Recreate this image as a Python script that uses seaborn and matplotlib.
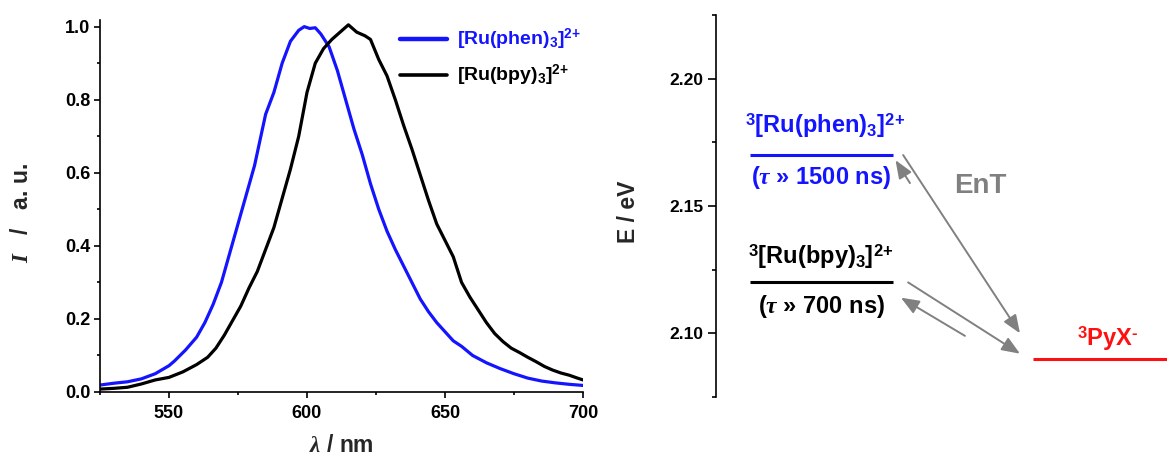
import numpy as np
import pandas as pd
import seaborn as sns
import matplotlib
matplotlib.use("Agg")
import matplotlib.pyplot as plt
from matplotlib.lines import Line2D
from matplotlib.ticker import MultipleLocator, FormatStrFormatter

# ---------------- data ----------------
wl_phen = [525, 530, 535, 540, 545, 550, 552, 556, 560, 563, 566, 569, 572, 575, 578,
           581, 583, 585, 588, 591, 594, 597, 599, 601, 603, 605, 608, 611, 614, 617,
           620, 623, 626, 629, 632, 635, 638, 641, 644, 647, 650, 653, 656, 660, 665,
           670, 675, 680, 685, 690, 695, 700]
I_phen = [0.019, 0.024, 0.028, 0.036, 0.050, 0.072, 0.085, 0.115, 0.150, 0.190, 0.240,
          0.300, 0.380, 0.460, 0.540, 0.620, 0.690, 0.760, 0.820, 0.900, 0.960, 0.990,
          1.000, 0.995, 0.997, 0.980, 0.945, 0.880, 0.800, 0.720, 0.650, 0.570, 0.500,
          0.440, 0.390, 0.345, 0.300, 0.255, 0.220, 0.190, 0.165, 0.140, 0.125, 0.100,
          0.080, 0.064, 0.050, 0.038, 0.030, 0.025, 0.021, 0.018]

wl_bpy = [525, 530, 535, 540, 545, 550, 555, 560, 564, 567, 570, 573, 576, 579, 582,
          585, 588, 591, 594, 597, 600, 603, 606, 609, 612, 615, 618, 621, 623, 626,
          629, 632, 635, 638, 641, 644, 647, 650, 653, 656, 659, 662, 665, 668, 671,
          674, 677, 680, 683, 686, 689, 692, 695, 698, 700]
I_bpy = [0.008, 0.010, 0.013, 0.022, 0.033, 0.040, 0.055, 0.075, 0.095, 0.120, 0.155,
         0.195, 0.235, 0.285, 0.330, 0.390, 0.450, 0.530, 0.610, 0.700, 0.820, 0.900,
         0.940, 0.965, 0.985, 1.005, 0.985, 0.975, 0.965, 0.910, 0.865, 0.800, 0.730,
         0.665, 0.595, 0.525, 0.460, 0.415, 0.370, 0.300, 0.260, 0.225, 0.190, 0.160,
         0.138, 0.120, 0.108, 0.095, 0.083, 0.070, 0.060, 0.052, 0.046, 0.038, 0.033]

series_names = ["phen", "bpy"]
legend_labels = [r"[Ru(phen)$_{3}$]$^{2\!+}$", r"[Ru(bpy)$_{3}$]$^{2\!+}$"]

x_ticks = [550, 600, 650, 700]
y_ticks = [0.0, 0.2, 0.4, 0.6, 0.8, 1.0]
e_ticks = [2.10, 2.15, 2.20]

# energy levels (eV)
level_names = ["phen", "bpy", "pyx"]
level_E = [2.170, 2.120, 2.090]
level_top = [r"$^{3}$[Ru(phen)$_{3}$]$^{2\!+}$", r"$^{3}$[Ru(bpy)$_{3}$]$^{2\!+}$",
             r"$^{3}$PyX$^{\text{-}}$"]
level_bottom = [r"($\tau$ » 1500 ns)", r"($\tau$ » 700 ns)", None]

# ---------------- style ----------------
sns.set_theme(style="ticks")
plt.rcParams["font.family"] = ["Liberation Sans", "DejaVu Sans"]
plt.rcParams["font.weight"] = "bold"
plt.rcParams["mathtext.fontset"] = "custom"
plt.rcParams["mathtext.rm"] = "Liberation Sans:bold"
plt.rcParams["mathtext.bf"] = "Liberation Sans:bold"
plt.rcParams["mathtext.sf"] = "Liberation Sans:bold"
plt.rcParams["mathtext.it"] = "Liberation Serif:italic"

BLUE = "#1414ff"
BLACK = "#000000"
RED = "#ff1010"
GRAY = "#808080"

W, H = 1167, 457
fig = plt.figure(figsize=(W / 100, H / 100), dpi=100)
ax1 = fig.add_axes([100 / W, 65 / H, 483 / W, 372.3 / H])
ax2 = fig.add_axes([716 / W, 60 / H, 451 / W, 382 / H])

# ---------------- left panel ----------------
df = pd.concat([
    pd.DataFrame({"wl": wl_phen, "I": I_phen, "complex": "phen"}),
    pd.DataFrame({"wl": wl_bpy, "I": I_bpy, "complex": "bpy"}),
], ignore_index=True)
palette = {"phen": BLUE, "bpy": BLACK}
sns.lineplot(data=df, x="wl", y="I", hue="complex", palette=palette,
             linewidth=2.3, legend=False, ax=ax1, sort=False)

ax1.set_xlim(525, 700)
ax1.set_ylim(0, 1.019)
ax1.set_xticks(x_ticks)
ax1.set_yticks(y_ticks)
ax1.xaxis.set_minor_locator(MultipleLocator(25))
ax1.yaxis.set_minor_locator(MultipleLocator(0.1))
ax1.yaxis.set_major_formatter(FormatStrFormatter("%.1f"))
for s in ["top", "right"]:
    ax1.spines[s].set_visible(False)
for s in ["left", "bottom"]:
    ax1.spines[s].set_linewidth(1.2)
    ax1.spines[s].set_color("black")
ax1.tick_params(which="major", direction="out", length=4, width=1.2, labelsize=13, colors="black")
ax1.tick_params(axis="x", which="major", pad=5)
ax1.tick_params(axis="y", which="major", pad=3)
ax1.tick_params(which="minor", direction="out", length=2.5, width=1.2, colors="black")
for lab in ax1.get_xticklabels() + ax1.get_yticklabels():
    lab.set_fontweight("bold")
ax1.set_xlabel(r"$\lambda$ / nm", fontsize=16.5, fontweight="bold", labelpad=9)
ax1.set_ylabel(r"$I$   /   a. u.", fontsize=16.5, fontweight="bold")
ax1.yaxis.set_label_coords(-0.139, 0.481)

handles = [Line2D([], [], color=BLUE, lw=3.2), Line2D([], [], color=BLACK, lw=2.6)]
leg = ax1.legend(handles, legend_labels, loc="upper left", bbox_to_anchor=(0.621, 0.98),
                 frameon=False, fontsize=14, handlelength=2.4, handletextpad=0.55,
                 labelspacing=0.55, borderaxespad=0.0, borderpad=0.0)
for txt, col in zip(leg.get_texts(), [BLUE, BLACK]):
    txt.set_color(col)
    txt.set_fontweight("bold")

# ---------------- right panel ----------------
ax2.set_xlim(0, 1)
ax2.set_ylim(2.075, 2.225)
ax2.set_yticks(e_ticks)
ax2.yaxis.set_minor_locator(MultipleLocator(0.025))
ax2.yaxis.set_major_formatter(FormatStrFormatter("%.2f"))
for s in ["top", "right", "bottom"]:
    ax2.spines[s].set_visible(False)
ax2.spines["left"].set_linewidth(1.2)
ax2.spines["left"].set_color("black")
ax2.set_xticks([])
ax2.tick_params(axis="y", which="major", direction="out", length=6, width=1.2, labelsize=12.5, colors="black", pad=3)
ax2.tick_params(axis="y", which="minor", direction="out", length=3, width=1.2, colors="black")
for lab in ax2.get_yticklabels():
    lab.set_fontweight("bold")
ax2.set_ylabel("E / eV", fontsize=16.5, fontweight="bold")
ax2.yaxis.set_label_coords(-0.1685, 0.484)

level_colors = [BLUE, BLACK, RED]
level_span = [(0.075, 0.392), (0.075, 0.392), (0.703, 1.0)]
level_textx = [0.242, 0.233, 0.868]
top_off = [16.0, 13.5, 9.5]      # points above the level
bot_off = [20.5, 22.0, None]    # points below the level
for E, col, (x0, x1), xc, t, b, to, bo in zip(level_E, level_colors, level_span, level_textx,
                                               level_top, level_bottom, top_off, bot_off):
    ax2.hlines(E, x0, x1, colors=col, linewidth=2.2)
    ax2.annotate(t, xy=(xc, E), xytext=(0, to), textcoords="offset points",
                 ha="center", va="baseline", color=col, fontsize=17, fontweight="bold",
                 annotation_clip=False)
    if b is not None:
        ax2.annotate(b, xy=((x0 + x1) / 2, E), xytext=(0, -bo), textcoords="offset points",
                     ha="center", va="baseline", color=col, fontsize=17, fontweight="bold",
                     annotation_clip=False)

ax2.text(0.585, 2.158, "EnT", color=GRAY, fontsize=20, fontweight="bold",
         ha="center", va="center")

E_phen, E_bpy, E_pyx = level_E
arrows = [
    ((0.415, E_phen), (0.674, E_pyx + 0.010)),
    ((0.430, E_phen - 0.011), (0.398, E_phen - 0.002)),
    ((0.426, E_bpy), (0.674, E_pyx + 0.002)),
    ((0.552, E_pyx + 0.009), (0.410, E_bpy - 0.006)),
]
for tail, head in arrows:
    ax2.annotate("", xy=head, xytext=tail,
                 arrowprops=dict(arrowstyle="-|>,head_length=0.55,head_width=0.22", color=GRAY, lw=1.4,
                                 mutation_scale=20, shrinkA=0, shrinkB=0))

fig.savefig("out.png", dpi=100)
